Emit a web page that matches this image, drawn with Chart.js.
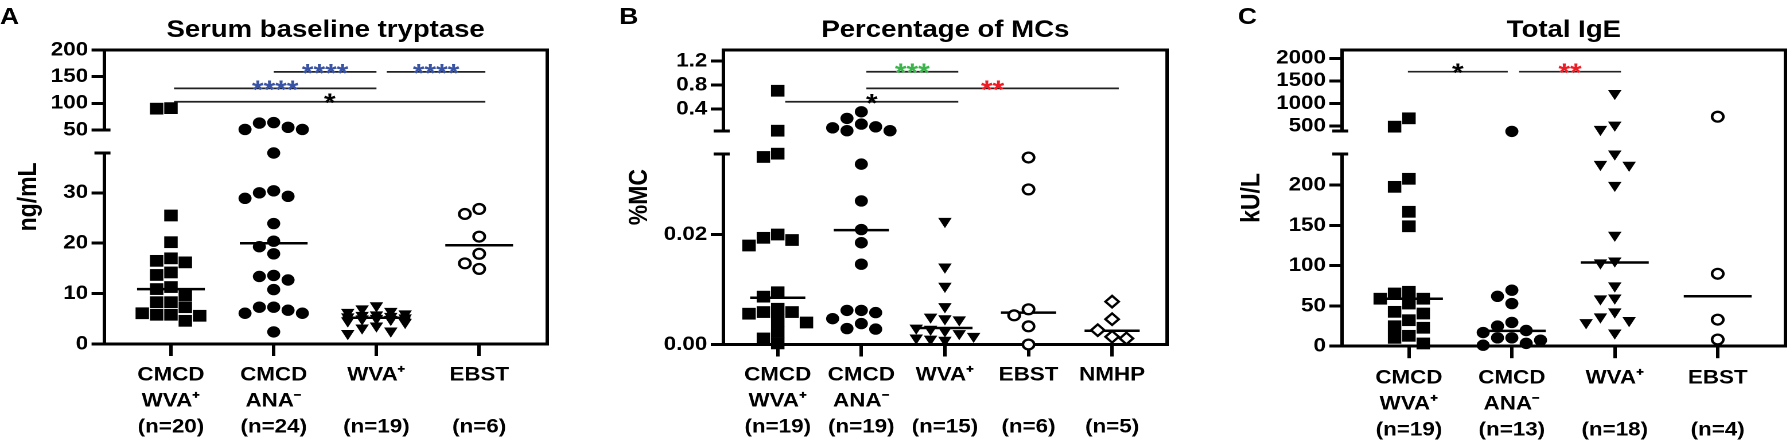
<!DOCTYPE html>
<html>
<head>
<meta charset="utf-8">
<script src="https://cdn.jsdelivr.net/npm/chart.js@4.4.1/dist/chart.umd.min.js"></script>
<style>
  html, body { margin: 0; padding: 0; background: #fff; }
  #wrap { position: relative; width: 1790px; height: 442px; overflow: hidden; }
  canvas { position: absolute; top: 0; }
</style>
</head>
<body>
<div id="wrap">
  <!-- the figure is stretched sideways, so each canvas is drawn narrower and widened by css -->
  <canvas id="panelA" width="523" height="442" style="left:0;width:600px;height:442px"></canvas>
  <canvas id="panelB" width="514" height="442" style="left:600px;width:590px;height:442px"></canvas>
  <canvas id="panelC" width="523" height="442" style="left:1190px;width:600px;height:442px"></canvas>
</div>
<script>
// ---------- A: serum baseline tryptase (ng/mL) ----------
const tryptaseGroups = [['CMCD', 'WVA⁺', '(n=20)'], ['CMCD', 'ANA⁻', '(n=24)'], ['WVA⁺', '', '(n=19)'], ['EBST', '', '(n=6)']];
const tryptaseCmcdWva = [91, 90, 25.5, 20.2, 17.0, 16.5, 16.2, 14.2, 13.7, 11.3, 10.9, 9.7, 8.3, 8.3, 7.3, 6.1, 5.8, 5.8, 5.6, 4.6];
const tryptaseCmcdAna = [64, 63, 55, 51, 51, 37.9, 30.4, 30.0, 29.3, 28.9, 23.9, 20.4, 19.3, 17.9, 13.6, 13.4, 12.7, 10.8, 7.3, 7.3, 6.7, 6.1, 6.1, 2.4];
const tryptaseWva = [7.6, 7.0, 6.5, 6.3, 6.0, 5.8, 5.7, 5.5, 5.4, 5.2, 5.1, 5.0, 4.9, 4.6, 4.3, 3.6, 3.2, 2.6, 2.1];
const tryptaseEbst = [26.8, 25.8, 21.3, 17.9, 16.0, 14.9];
const tryptaseMedians = [10.9, 20.0, 5.2, 19.6];
const tryptaseTicksHigh = [50, 100, 150, 200];
const tryptaseTicksLow = [0, 10, 20, 30];
const tryptaseTests = [[1, 2, '****'], [2, 3, '****'], [0, 2, '****'], [0, 3, '*']];

// ---------- B: percentage of MCs ----------
const mcGroups = [['CMCD', 'WVA⁺', '(n=19)'], ['CMCD', 'ANA⁻', '(n=19)'], ['WVA⁺', '', '(n=15)'], ['EBST', '', '(n=6)'], ['NMHP', '', '(n=5)']];
const mcCmcdWva = [0.705, 0.040, 0.0347, 0.0341, 0.0200, 0.0194, 0.0190, 0.0180, 0.0095, 0.0087, 0.0065, 0.0059, 0.0059, 0.0056, 0.0044, 0.0040, 0.0023, 0.0011, 0.0002];
const mcCmcdAna = [0.355, 0.245, 0.150, 0.105, 0.088, 0.040, 0.040, 0.0328, 0.0261, 0.0209, 0.0185, 0.0146, 0.0062, 0.0062, 0.0058, 0.0047, 0.0038, 0.0029, 0.0028];
const mcWva = [0.0224, 0.0141, 0.0106, 0.0069, 0.0050, 0.0047, 0.0045, 0.0030, 0.0028, 0.0025, 0.0020, 0.0015, 0.0012, 0.0010, 0.0008];
const mcEbst = [0.0340, 0.0282, 0.0064, 0.0053, 0.0033, 0.0000];
const mcNmhp = [0.0078, 0.0046, 0.0026, 0.0014, 0.0011];
const mcMedians = [0.0085, 0.0208, 0.0030, 0.0058, 0.0025];
const mcTicksHigh = [0.4, 0.8, 1.2];
const mcTicksLow = [0, 0.02];
const mcTests = [[1, 2, '***'], [1, 4, '**'], [0, 2, '*']];

// ---------- C: total IgE (kU/L) ----------
const igeGroups = [['CMCD', 'WVA⁺', '(n=19)'], ['CMCD', 'ANA⁻', '(n=13)'], ['WVA⁺', '', '(n=18)'], ['EBST', '', '(n=4)']];
const igeCmcdWva = [670, 485, 208, 198, 167, 149, 67.6, 65.5, 59, 59, 53, 42.7, 40.6, 32.3, 24.8, 22.9, 12.9, 10.4, 3.4];
const igeCmcdAna = [380, 69.6, 62, 53, 29.5, 25, 19.5, 17, 10.4, 10.4, 7.5, 3.5, 1.2];
const igeWva = [1223, 522, 427, 239, 226, 225, 200, 138, 106, 103.6, 75, 60, 59, 42.7, 36.5, 32, 29.4, 16.6];
const igeEbst = [706, 90, 33, 8.3];
const igeMedians = [59, 19, 104, 62];
const igeTicksHigh = [500, 1000, 1500, 2000];
const igeTicksLow = [0, 50, 100, 150, 200];
const igeTests = [[0, 1, '*'], [1, 2, '**']];

const FONT = '"Liberation Sans", Arial, Helvetica, sans-serif';
const INK = '#000';
const BLUE = '#3953a4';
const GREEN = '#3ab54a';
const RED = '#ee1c25';

Chart.defaults.font.family = FONT;
Chart.defaults.color = INK;

const MARKS = {
  square: { pointStyle: 'rect', pointRadius: 8.3, pointBackgroundColor: INK, pointBorderWidth: 0 },
  dot: { pointStyle: 'circle', pointRadius: 5.7, pointBackgroundColor: INK, pointBorderWidth: 0 },
  tri: { pointStyle: 'triangle', pointRotation: 180, pointRadius: 6.8, pointBackgroundColor: INK, pointBorderWidth: 0 },
  ring: { pointStyle: 'circle', pointRadius: 4.9, pointBackgroundColor: '#fff', pointBorderColor: INK, pointBorderWidth: 2.3 },
  diamond: { pointStyle: 'rectRot', pointRadius: 5.8, pointBackgroundColor: '#fff', pointBorderColor: INK, pointBorderWidth: 2.2 },
};

const panels = [
  {
    id: 'panelA', letter: 'A', title: 'Serum baseline tryptase', yTitle: 'ng/mL',
    groups: tryptaseGroups, series: [tryptaseCmcdWva, tryptaseCmcdAna, tryptaseWva, tryptaseEbst],
    medians: tryptaseMedians, tests: tryptaseTests,
    ticksHigh: tryptaseTicksHigh, ticksLow: tryptaseTicksLow,
    fmtHigh: (v) => String(v), fmtLow: (v) => String(v),
    split: 45, upMin: 50, upMax: 200.4, lowMax: 37.9,
    marks: ['square', 'dot', 'tri', 'ring'],
    starColors: [BLUE, BLUE, BLUE, INK],
    sigLevels: [159, 159, 128, 103],
    sigInsets: [[0, 0], [0.1, 0.06], [0.03, 0], [0.03, 0.06]],
    geo: { W: 523, top: 49.8, upBottom: 130, lowTop: 153, bottom: 344, left: 90.8, right: 476.8, yTitleW: 40, yTitlePad: 11.2, letterX: 0, labelPad: 6 },
  },
  {
    id: 'panelB', letter: 'B', title: 'Percentage of MCs', yTitle: '%MC',
    groups: mcGroups, series: [mcCmcdWva, mcCmcdAna, mcWva, mcEbst, mcNmhp],
    medians: mcMedians, tests: mcTests,
    ticksHigh: mcTicksHigh, ticksLow: mcTicksLow,
    fmtHigh: (v) => v.toFixed(1), fmtLow: (v) => v.toFixed(2),
    split: 0.035, upMin: 0.035, upMax: 1.387, lowMax: 0.03464,
    marks: ['square', 'dot', 'tri', 'ring', 'diamond'],
    starColors: [GREEN, RED, INK],
    sigLevels: [1.022, 0.745, 0.522],
    sigInsets: [[0.06, 0.16], [0.06, 0.08], [0.09, 0.16]],
    geo: { W: 514, top: 49.8, upBottom: 131, lowTop: 154, bottom: 344.5, left: 107.5, right: 494.2, yTitleW: 50, yTitlePad: 20.9, letterX: 16.7, labelPad: 5.5 },
  },
  {
    id: 'panelC', letter: 'C', title: 'Total IgE', yTitle: 'kU/L',
    groups: igeGroups, series: [igeCmcdWva, igeCmcdAna, igeWva, igeEbst],
    medians: igeMedians, tests: igeTests,
    ticksHigh: igeTicksHigh, ticksLow: igeTicksLow,
    fmtHigh: (v) => String(v), fmtLow: (v) => String(v),
    split: 300, upMin: 389, upMax: 2188, lowMax: 238.8,
    marks: ['square', 'dot', 'tri', 'ring'],
    starColors: [INK, RED],
    sigLevels: [1703, 1703],
    sigInsets: [[-0.01, -0.04], [0.07, 0.06]],
    geo: { W: 523, top: 49.8, upBottom: 131, lowTop: 154, bottom: 346.2, left: 132.5, right: 519.2, yTitleW: 70, yTitlePad: 40.4, letterX: 41.7, labelPad: 6.8 },
  },
];

// spread points sideways like a column scatter: smallest free offset,
// and once the column is full, the least crowded slot (points may overlap)
function swarm(vals, yPx, pxPerX) {
  const step = 12.5, boxX = 12.5, boxY = 11.5, maxOff = 27;
  const order = vals.map((v, i) => i).sort((a, b) => vals[b] - vals[a]);
  const placed = [];
  const out = [];
  order.forEach((i) => {
    const y = yPx(vals[i]);
    let best = 0;
    let bestGap = -1;
    for (let k = 0; k < 60; k++) {
      const off = (k % 2 ? -1 : 1) * Math.ceil(k / 2) * step / 2;
      if (Math.abs(off) > maxOff) break;
      let gap = Infinity;
      placed.forEach((q) => {
        if (Math.abs(q.x - off) < boxX) gap = Math.min(gap, Math.abs(q.y - y));
      });
      if (gap >= boxY) { best = off; break; }
      if (gap > bestGap + 0.5) { bestGap = gap; best = off; }
    }
    placed.push({ x: best, y });
    out[i] = best / pxPerX;
  });
  return out;
}

// panel letter, axis break caps and significance stars
const panelExtras = {
  id: 'panelExtras',
  afterDraw(chart, args, opts) {
    const { ctx, chartArea, scales } = chart;
    ctx.save();
    ctx.fillStyle = INK;
    ctx.textAlign = 'left';
    ctx.textBaseline = 'alphabetic';
    ctx.font = `bold 23px ${FONT}`;
    ctx.fillText(opts.letter, opts.letterX, 24);

    const ax = chartArea.left - 1.5;
    ctx.strokeStyle = INK;
    ctx.lineWidth = 3;
    [scales.yUp.bottom, scales.yLow.top].forEach((y) => {
      ctx.beginPath();
      ctx.moveTo(ax - 7, y);
      ctx.lineTo(ax + 7, y);
      ctx.stroke();
    });

    ctx.font = `bold 26px ${FONT}`;
    ctx.textAlign = 'center';
    opts.stars.forEach((s) => {
      const cx = (scales.x.getPixelForValue(s.from) + scales.x.getPixelForValue(s.to)) / 2;
      const y = scales.yUp.getPixelForValue(s.level);
      ctx.fillStyle = s.color;
      ctx.fillText(s.text, cx, y + 10);
    });
    ctx.restore();
  },
};

function buildPanel(p) {
  const g = p.geo;
  const n = p.groups.length;
  const xMin = -0.65;
  const xMax = n - 1 + 0.66;
  const upH = g.upBottom - g.top;
  const gapH = g.lowTop - g.upBottom;
  const lowH = g.bottom - g.lowTop;
  const stackW = g.left - g.yTitleW;
  const pxPerX = (g.right - g.left) / (xMax - xMin);
  const yPx = (v) => (v > p.split
    ? g.top + (p.upMax - v) / (p.upMax - p.upMin) * upH
    : g.lowTop + (p.lowMax - v) / p.lowMax * lowH);

  const datasets = [];
  p.series.forEach((vals, i) => {
    const dx = swarm(vals, yPx, pxPerX);
    const hi = [];
    const lo = [];
    vals.forEach((v, j) => (v > p.split ? hi : lo).push({ x: i + dx[j], y: v }));
    const mark = MARKS[p.marks[i]];
    datasets.push({ data: lo, xAxisID: 'x', yAxisID: 'yLow', clip: false, ...mark });
    if (hi.length) datasets.push({ data: hi, xAxisID: 'x', yAxisID: 'yUp', clip: false, ...mark });
  });

  p.medians.forEach((m, i) => {
    datasets.push({
      data: [{ x: i - 0.33, y: m }, { x: i + 0.33, y: m }],
      xAxisID: 'x', yAxisID: 'yLow', showLine: true, borderColor: INK, borderWidth: 2.5,
      pointRadius: 0, clip: false,
    });
  });

  const stars = [];
  p.tests.forEach((t, k) => {
    const from = t[0] + p.sigInsets[k][0];
    const to = t[1] + p.sigInsets[k][1];
    const level = p.sigLevels[k];
    datasets.push({
      data: [{ x: from, y: level }, { x: to, y: level }],
      xAxisID: 'x', yAxisID: 'yUp', showLine: true, borderColor: '#222', borderWidth: 1.7,
      pointRadius: 0, clip: false,
    });
    stars.push({ from, to, level, text: t[2], color: p.starColors[k] });
  });

  const tickFont = { family: FONT, size: 19.5, weight: 'bold' };
  const yAxis = (extra) => ({
    type: 'linear', axis: 'y', position: 'left', stack: 'broken',
    grid: { drawOnChartArea: false, drawTicks: true, tickLength: 11, lineWidth: 3, color: INK },
    border: { display: true, width: 3, color: INK },
    afterFit: (s) => { s.width = stackW; },
    ...extra,
  });

  return new Chart(document.getElementById(p.id), {
    type: 'scatter',
    data: { datasets },
    plugins: [panelExtras],
    options: {
      responsive: false,
      devicePixelRatio: 2,
      animation: false,
      events: [],
      layout: { padding: { left: 0, right: g.W - g.right, top: 0, bottom: 0 }, autoPadding: false },
      plugins: {
        legend: { display: false },
        tooltip: { enabled: false },
        title: {
          display: true, text: p.title, fullSize: false, color: INK,
          font: { family: FONT, size: 24, weight: 'bold' },
          padding: { top: 15.8, bottom: 5.2 },
        },
        panelExtras: { letter: p.letter, letterX: g.letterX, stars },
      },
      scales: {
        x: {
          type: 'linear', position: 'bottom', min: xMin, max: xMax,
          afterBuildTicks: (s) => { s.ticks = p.groups.map((_, i) => ({ value: i })); },
          afterFit: (s) => { s.height = 442 - g.bottom; },
          ticks: {
            autoSkip: false, maxRotation: 0, minRotation: 0, padding: g.labelPad, color: INK,
            font: { ...tickFont, lineHeight: 1.333 },
            callback: (v) => p.groups[v],
          },
          grid: { drawOnChartArea: false, drawTicks: true, tickLength: 12, lineWidth: 3, color: INK },
          border: { display: true, width: 3, color: INK },
        },
        xTop: {
          type: 'linear', axis: 'x', position: 'top', min: xMin, max: xMax,
          ticks: { display: false }, grid: { display: false },
          border: { display: true, width: 3, color: INK },
          afterFit: (s) => { s.height = 0; },
        },
        yRight: {
          type: 'linear', axis: 'y', position: 'right',
          ticks: { display: false }, grid: { display: false },
          border: { display: true, width: 3, color: INK },
          afterFit: (s) => { s.width = 0; },
        },
        yName: {
          type: 'linear', axis: 'y', position: 'left', weight: 10,
          ticks: { display: false }, grid: { display: false }, border: { display: false },
          title: {
            display: true, text: p.yTitle, color: INK,
            font: { family: FONT, size: 23, weight: 'bold' },
            padding: { top: g.yTitlePad, bottom: 0 },
          },
          afterFit: (s) => { s.width = g.yTitleW; },
        },
        yUp: yAxis({
          weight: 3, stackWeight: upH, min: p.upMin, max: p.upMax,
          afterBuildTicks: (s) => { s.ticks = p.ticksHigh.map((v) => ({ value: v })); },
          ticks: { autoSkip: false, padding: 3, color: INK, font: tickFont, callback: p.fmtHigh },
        }),
        yGap: yAxis({
          weight: 2, stackWeight: gapH,
          ticks: { display: false }, grid: { display: false }, border: { display: false },
        }),
        yLow: yAxis({
          weight: 1, stackWeight: lowH, min: 0, max: p.lowMax,
          afterBuildTicks: (s) => { s.ticks = p.ticksLow.map((v) => ({ value: v })); },
          ticks: { autoSkip: false, padding: 3, color: INK, font: tickFont, callback: p.fmtLow },
        }),
      },
    },
  });
}

panels.forEach(buildPanel);
</script>
</body>
</html>
